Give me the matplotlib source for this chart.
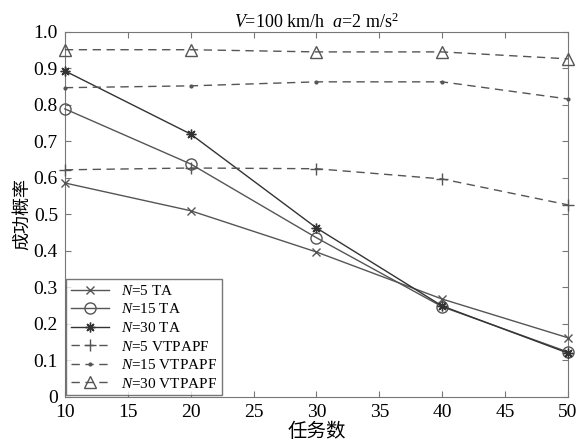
import matplotlib
matplotlib.use('Agg')
import matplotlib.pyplot as plt

plt.rcParams['font.family'] = ['Liberation Serif', 'Noto Sans CJK SC']
plt.rcParams['mathtext.fontset'] = 'custom'
plt.rcParams['mathtext.it'] = 'Liberation Serif:italic'
plt.rcParams['mathtext.rm'] = 'Liberation Serif'

tasks = [10, 20, 30, 40, 50]
ta_n5 = [0.586, 0.510, 0.397, 0.268, 0.162]
ta_n15 = [0.789, 0.638, 0.436, 0.247, 0.123]
ta_n30 = [0.893, 0.720, 0.463, 0.249, 0.120]
vt_n5 = [0.622, 0.627, 0.625, 0.597, 0.526]
vt_n15 = [0.847, 0.852, 0.863, 0.863, 0.816]
vt_n30 = [0.951, 0.951, 0.945, 0.945, 0.926]

yticks = [0, 0.1, 0.2, 0.3, 0.4, 0.5, 0.6, 0.7, 0.8, 0.9, 1.0]
ytick_labels = ['0', '0.1', '0.2', '0.3', '0.4', '0.5', '0.6', '0.7', '0.8', '0.9', '1.0']
xticks = [10, 15, 20, 25, 30, 35, 40, 45, 50]

c = '#555555'
fig = plt.figure(figsize=(5.79, 4.42), dpi=100)
ax = fig.add_axes([0.112, 0.102, 0.869, 0.826])

kw = dict(lw=1, clip_on=False, zorder=3)
ax.plot(tasks, ta_n5, '-', marker='x', color=c, ms=6, mfc='none', label='$N$=5 TA', **kw)
ax.plot(tasks, ta_n15, '-', marker='o', color=c, ms=8, mfc='none', label='$N$=15 TA', **kw)
ax.plot(tasks, ta_n30, '-', marker=(8, 2, 0), color='#333333', ms=7, label='$N$=30 TA', **kw)
ax.plot(tasks, vt_n5, '--', marker='+', color=c, ms=8, dashes=(6, 4), label='$N$=5 VTPAPF', **kw)
ax.plot(tasks, vt_n15, '--', marker='.', color=c, ms=4, dashes=(6, 4), label='$N$=15 VTPAPF', **kw)
ax.plot(tasks, vt_n30, '--', marker='^', color=c, ms=8, mfc='none', dashes=(6, 4), label='$N$=30 VTPAPF', **kw)

ax.set_xlim(10, 50)
ax.set_ylim(0, 1.0)
ax.set_xticks(xticks)
ax.set_yticks(yticks)
ax.set_yticklabels(ytick_labels)
ax.tick_params(direction='in', top=True, right=True, labelsize=14, length=4, color='#777777')
ax.tick_params(axis='x', pad=5)
ax.tick_params(axis='y', pad=5)
for s in ax.spines.values():
    s.set_color('#777777')

ax.set_xlabel('任务数', fontsize=14, family=['Noto Sans CJK SC'], labelpad=0)
ax.set_ylabel('成功概率', fontsize=13, family=['Noto Sans CJK SC'], labelpad=2)
ax.set_title('$V$=100 km/h  $a$=2 m/s$^2$', fontsize=13, pad=3)

leg = ax.legend(loc='lower left', fontsize=11, fancybox=False, edgecolor='#555555',
                borderaxespad=0.1, handlelength=2.5, labelspacing=0.3, borderpad=0.3)
leg.get_frame().set_linewidth(1)
leg.set_zorder(5)

fig.savefig('out.png', dpi=100)
